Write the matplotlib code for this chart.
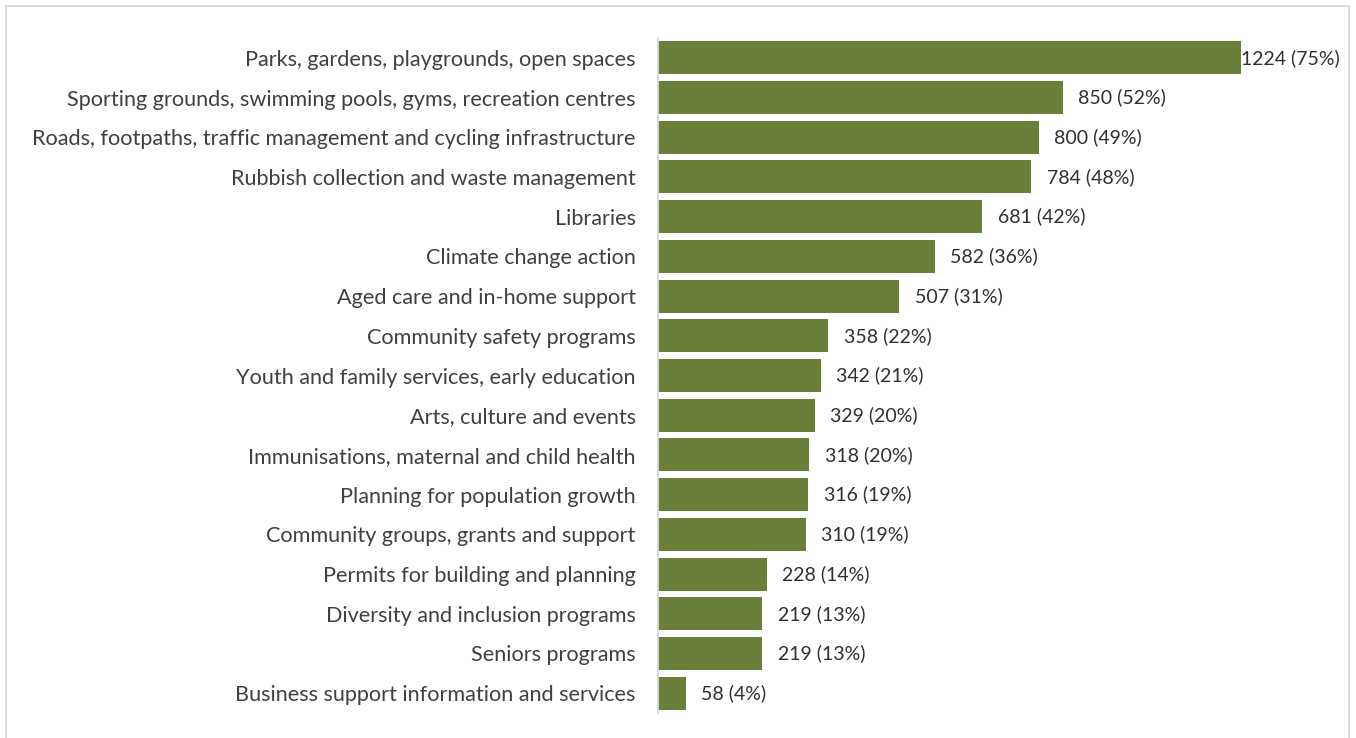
import numpy as np
import matplotlib
matplotlib.use("Agg")
import matplotlib.pyplot as plt
from matplotlib.patches import Rectangle

# council services ranked by number of respondents
services = [
    "Parks, gardens, playgrounds, open spaces",
    "Sporting grounds, swimming pools, gyms, recreation centres",
    "Roads, footpaths, traffic management and cycling infrastructure",
    "Rubbish collection and waste management",
    "Libraries",
    "Climate change action",
    "Aged care and in-home support",
    "Community safety programs",
    "Youth and family services, early education",
    "Arts, culture and events",
    "Immunisations, maternal and child health",
    "Planning for population growth",
    "Community groups, grants and support",
    "Permits for building and planning",
    "Diversity and inclusion programs",
    "Seniors programs",
    "Business support information and services",
]
counts = [1224, 850, 800, 784, 681, 582, 507, 358, 342, 329, 318, 316, 310, 228, 219, 219, 58]
percents = [75, 52, 49, 48, 42, 36, 31, 22, 21, 20, 20, 19, 19, 14, 13, 13, 4]

plt.rcParams["font.family"] = ["Lato", "DejaVu Sans"]

W, H = 1356, 738
fig = plt.figure(figsize=(W / 100, H / 100), dpi=100)

# light grey frame round the chart
fig.patches.append(Rectangle((6 / W, -0.01), (1349 - 6) / W, (H - 6) / H + 0.01,
                             transform=fig.transFigure, fill=False,
                             edgecolor="#d9d9d9", linewidth=1.3))

ax = fig.add_axes([658 / W, 1 - 713 / H, (1349 - 658) / W, (713 - 38) / H])

y = np.arange(len(services))
ax.barh(y, counts, height=0.83, color="#6A803A")
ax.set_ylim(len(services) - 0.5, -0.5)
ax.set_xlim(0, 1451)

ax.set_yticks(y)
ax.set_yticklabels(services, fontsize=15.6, color="#404040")
ax.tick_params(axis="y", length=0, pad=16)
ax.set_xticks([])

for s in ["top", "right", "bottom"]:
    ax.spines[s].set_visible(False)
ax.spines["left"].set_color("#d9d9d9")
ax.spines["left"].set_linewidth(1.3)

xmax = ax.get_xlim()[1]
for yi, c, p in zip(y, counts, percents):
    txt = f"{c} ({p}%)"
    if c > 0.8 * xmax:
        # too long to fit past the bar end, so pull it back inside the plot
        ax.text(0.987, yi, txt, transform=ax.get_yaxis_transform(),
                ha="right", va="center", fontsize=14, color="#303030")
    else:
        ax.annotate(txt, (c, yi), xytext=(11, 0), textcoords="offset points",
                    ha="left", va="center", fontsize=14, color="#303030")

fig.savefig("out.png", dpi=100)
